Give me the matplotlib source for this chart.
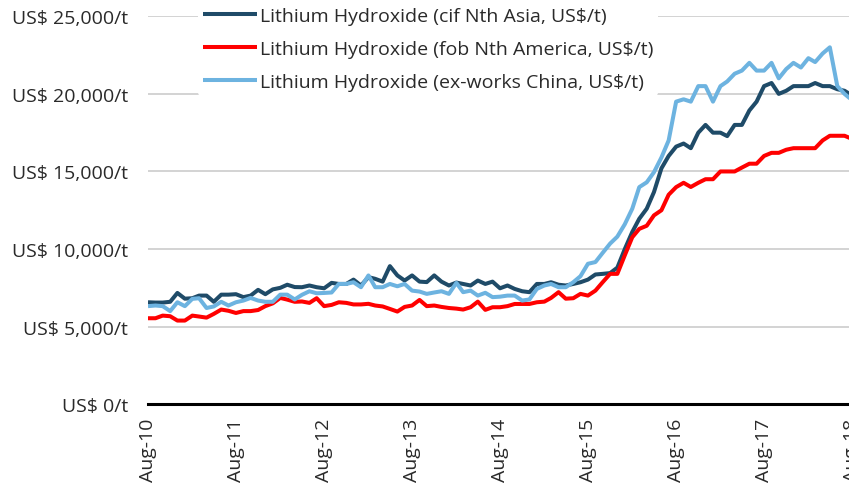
import matplotlib
matplotlib.use("Agg")
import matplotlib.pyplot as plt
import pandas as pd

plt.rcParams['font.family'] = ['Open Sans', 'DejaVu Sans']

# Monthly values, Aug-2010 .. Aug-2018, in thousand US$/t
cif_asia = [6.57, 6.55, 6.55, 6.6, 7.17, 6.8, 6.83, 7.0, 7.0, 6.6,
            7.06, 7.06, 7.09, 6.9, 7.0, 7.37, 7.09, 7.4, 7.5, 7.7,
            7.55, 7.54, 7.65, 7.54, 7.47, 7.82, 7.75, 7.75, 8.03, 7.65,
            8.19, 8.08, 7.9, 8.9, 8.3, 7.97, 8.3, 7.9, 7.87, 8.3,
            7.9, 7.65, 7.84, 7.75, 7.65, 7.97, 7.75, 7.9, 7.47, 7.65,
            7.43, 7.28, 7.22, 7.75, 7.75, 7.86, 7.7, 7.65, 7.75, 7.86,
            8.03, 8.36, 8.4, 8.45, 8.8, 10.0, 11.1, 11.95, 12.6, 13.67,
            15.2, 16.0, 16.6, 16.8, 16.5, 17.5, 18.0, 17.5, 17.5, 17.28,
            18.0, 18.0, 18.93, 19.5, 20.5, 20.7, 20.0, 20.2, 20.5, 20.5,
            20.5, 20.7, 20.5, 20.5, 20.3, 20.2, 19.9]

fob_america = [5.54, 5.54, 5.71, 5.67, 5.39, 5.39, 5.71, 5.65, 5.58, 5.82,
               6.1, 6.02, 5.88, 6.0, 6.0, 6.07, 6.32, 6.5, 6.85, 6.74,
               6.6, 6.62, 6.53, 6.83, 6.32, 6.4, 6.57, 6.53, 6.43, 6.43,
               6.47, 6.36, 6.3, 6.14, 5.97, 6.27, 6.36, 6.72, 6.32, 6.36,
               6.27, 6.2, 6.16, 6.1, 6.25, 6.61, 6.08, 6.25, 6.25, 6.32,
               6.46, 6.46, 6.46, 6.57, 6.61, 6.85, 7.22, 6.8, 6.83, 7.11,
               7.0, 7.32, 7.86, 8.4, 8.4, 9.6, 10.76, 11.3, 11.5, 12.17,
               12.5, 13.5, 13.99, 14.27, 14.0, 14.27, 14.5, 14.5, 15.0, 15.0,
               15.0, 15.25, 15.5, 15.5, 16.0, 16.2, 16.2, 16.4, 16.5, 16.5,
               16.5, 16.5, 17.0, 17.3, 17.3, 17.3, 17.1]

exw_china = [6.32, 6.36, 6.32, 6.0, 6.57, 6.32, 6.79, 6.83, 6.2, 6.3,
             6.6, 6.36, 6.57, 6.68, 6.85, 6.68, 6.6, 6.6, 7.06, 7.06,
             6.75, 7.05, 7.28, 7.15, 7.17, 7.2, 7.75, 7.75, 7.86, 7.54,
             8.3, 7.54, 7.54, 7.75, 7.6, 7.75, 7.32, 7.26, 7.11, 7.2,
             7.28, 7.11, 7.82, 7.22, 7.32, 7.0, 7.18, 6.9, 6.93, 7.0,
             7.0, 6.68, 6.75, 7.43, 7.65, 7.75, 7.54, 7.54, 7.86, 8.25,
             9.05, 9.16, 9.75, 10.35, 10.8, 11.6, 12.6, 13.99, 14.3, 14.95,
             15.9, 17.0, 19.5, 19.65, 19.5, 20.5, 20.5, 19.5, 20.5, 20.8,
             21.3, 21.5, 22.0, 21.5, 21.5, 22.0, 21.0, 21.6, 22.0, 21.7,
             22.3, 22.05, 22.6, 23.0, 20.5, 20.0, 19.6]

labels = ["Lithium Hydroxide (cif Nth Asia, US$/t)",
          "Lithium Hydroxide (fob Nth America, US$/t)",
          "Lithium Hydroxide (ex-works China, US$/t)"]
colors = ["#1F4B68", "#FF0000", "#6DB3E0"]

y_ticks = [0, 5000, 10000, 15000, 20000, 25000]
y_ticklabels = ["US$ 0/t", "US$ 5,000/t", "US$ 10,000/t",
                "US$ 15,000/t", "US$ 20,000/t", "US$ 25,000/t"]

dates = pd.date_range("2010-08-01", periods=len(cif_asia), freq="MS")
x_ticks = dates[::12]
x_ticklabels = [d.strftime("%b-%y") for d in x_ticks]

W, H = 849, 489
fig = plt.figure(figsize=(W / 100, H / 100), dpi=100)
left, right, bottom_px, top_px = 148, 852, 405.2, 17.3
ax = fig.add_axes([left / W, (H - bottom_px) / H, (right - left) / W,
                   (bottom_px - top_px) / H])

for vals, lab, col in zip([cif_asia, fob_america, exw_china], labels, colors):
    ax.plot(dates, [v * 1000 for v in vals], color=col, lw=2.9, label=lab,
            solid_joinstyle='round', solid_capstyle='butt')

ax.set_xlim(dates[0], dates[-1])
ax.set_ylim(0, 25000)
ax.set_yticks(y_ticks)
ax.set_yticklabels(y_ticklabels)
ax.set_xticks(x_ticks)
ax.set_xticklabels(x_ticklabels, rotation=90, ha='center', va='top')

txtcol = "#2A2A2A"
fs = 14
ax.tick_params(axis='y', length=0, pad=14.5, labelsize=fs, labelcolor=txtcol)
ax.tick_params(axis='x', length=0, pad=10, labelsize=fs, labelcolor=txtcol)

ax.grid(axis='y', color='#C8C8C8', lw=1.1)
ax.set_axisbelow(True)
for s in ['left', 'right', 'top']:
    ax.spines[s].set_visible(False)
ax.spines['bottom'].set_color('black')
ax.spines['bottom'].set_linewidth(2.2)
ax.spines['bottom'].set_zorder(5)

leg = fig.legend(loc='upper left', bbox_to_anchor=(198 / W, 1 - 3 / H),
                 bbox_transform=fig.transFigure, fontsize=fs, frameon=True,
                 handlelength=2.8, handletextpad=0.15, labelspacing=0.78,
                 borderpad=0.25, borderaxespad=0)
leg.get_frame().set_facecolor('white')
leg.get_frame().set_edgecolor('none')
leg.get_frame().set_alpha(1)
for t in leg.get_texts():
    t.set_color(txtcol)

fig.savefig("out.png", dpi=100)
